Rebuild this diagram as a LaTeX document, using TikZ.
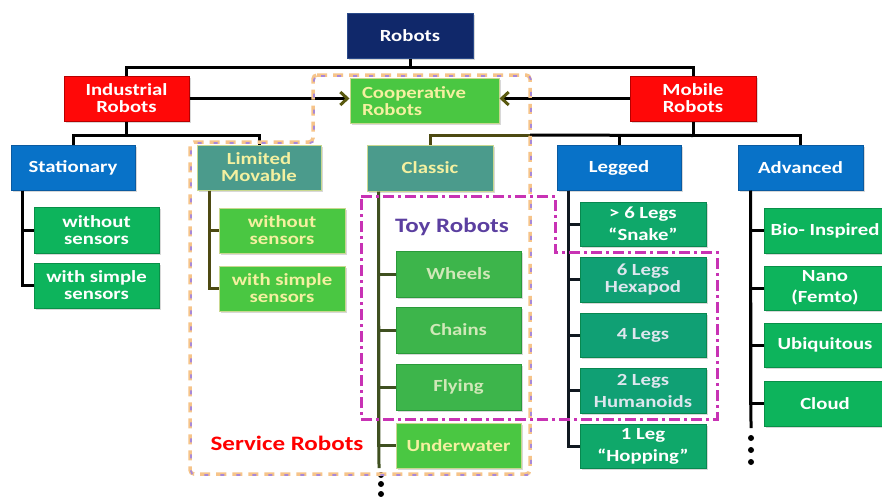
\documentclass[tikz,border=0pt]{standalone}
\usepackage{fontspec}
\newfontfamily\boxfont{Carlito}[FakeStretch=1.22]
\usetikzlibrary{arrows.meta,shadows}
\definecolor{navyc}{HTML}{10286A}
\definecolor{navyb}{HTML}{2A4A8A}
\definecolor{redc}{HTML}{FF0808}
\definecolor{redb}{HTML}{B80000}
\definecolor{bluec}{HTML}{0872C8}
\definecolor{blueb}{HTML}{0A5AA0}
\definecolor{tealc}{HTML}{4B9B8C}
\definecolor{paleb}{HTML}{C8D890}
\definecolor{paletxt}{HTML}{F4F0A0}
\definecolor{bgreenc}{HTML}{4AC742}
\definecolor{toyc}{HTML}{3DB54B}
\definecolor{toyb}{HTML}{2A9A3A}
\definecolor{toytxt}{HTML}{D0E8B8}
\definecolor{sgreenc}{HTML}{0DB45C}
\definecolor{sgreenb}{HTML}{089048}
\definecolor{lgreenc}{HTML}{0FA86A}
\definecolor{lgreenb}{HTML}{088850}
\definecolor{lgreen2c}{HTML}{10A074}
\definecolor{lgreen2t}{HTML}{DDE6EE}
\definecolor{olivec}{HTML}{4D4A12}
\definecolor{classicl}{HTML}{3F5020}
\definecolor{arrowc}{HTML}{5A5A10}
\definecolor{orangec}{HTML}{F6C48A}
\definecolor{lavc}{HTML}{A888D8}
\definecolor{magc}{HTML}{C832B4}
\definecolor{toylbl}{HTML}{5B3FA0}
\definecolor{legl}{HTML}{101820}
\begin{document}
\begin{tikzpicture}[x=1pt,y=-1pt,
  base/.style={rectangle, inner sep=0pt, line width=1pt, align=center,
    font=\boxfont\bfseries\fontsize{17}{17}\selectfont,
    drop shadow={shadow xshift=1.5pt,shadow yshift=-1.5pt,opacity=0.3}},
  sz/.style 2 args={minimum width=#1pt, minimum height=#2pt},
  navybox/.style={base, fill=navyc, draw=navyb, text=white},
  redbox/.style={base, fill=redc, draw=redb, text=white},
  bluebox/.style={base, fill=bluec, draw=blueb, text=white},
  tealbox/.style={base, fill=tealc, draw=paleb, text=paletxt},
  bgreenbox/.style={base, fill=bgreenc, draw=paleb, text=paletxt},
  toybox/.style={base, fill=toyc, draw=toyb, text=toytxt},
  sgreenbox/.style={base, fill=sgreenc, draw=sgreenb, text=white},
  lgreenbox/.style={base, fill=lgreenc, draw=lgreenb, text=white},
  lgreenboxb/.style={base, fill=lgreen2c, draw=lgreenb, text=lgreen2t},
  tree/.style={line width=3pt, draw=black},
  arr/.style={tree, -{Straight Barb[length=7pt,width=13pt,line width=3pt,color=arrowc]}},
  dot/.style={circle, fill=black, inner sep=0pt, minimum size=6pt},
  lbl/.style={font=\boxfont\bfseries\fontsize{20.5}{20.5}\selectfont, inner sep=0pt}
]
\useasboundingbox[fill=white] (0,0) rectangle (882,496);

% ---- level 0/1
\node[navybox, sz={126}{45}] (robots) at (410,35.5) {Robots};
\node[redbox, sz={125}{45}] (ind) at (126.5,98.5) {Industrial\\Robots};
\node[redbox, sz={126}{45}] (mob) at (693,98.5) {Mobile\\Robots};
\node[bgreenbox, sz={149}{45}, align=left, text width=125pt] (coop) at (424.5,101) {Cooperative\\Robots};

% ---- level 2
\node[bluebox, sz={124}{45}] (stat) at (73,167.5) {Stationary};
\node[tealbox, sz={124}{45}] (lim) at (259,167.5) {Limited\\Movable};
\node[tealbox, sz={126}{46}] (cls) at (430,168) {Classic};
\node[bluebox, sz={124}{45}] (leg) at (619,167.5) {Legged};
\node[bluebox, sz={125}{45}] (adv) at (800.5,167.5) {Advanced};

% ---- stationary children
\node[sgreenbox, sz={125}{46}] (sw1) at (96.5,230) {without\\sensors};
\node[sgreenbox, sz={125}{45}] (sw2) at (96.5,285.5) {with simple\\sensors};
% ---- limited movable children
\node[bgreenbox, sz={126}{45}] (lw1) at (282,230.5) {without\\sensors};
\node[bgreenbox, sz={126}{45}] (lw2) at (282,288.5) {with simple\\sensors};
% ---- classic children
\node[toybox, sz={125}{46}] (wheels) at (458.5,274) {Wheels};
\node[toybox, sz={125}{46}] (chains) at (458.5,330) {Chains};
\node[toybox, sz={125}{46}] (flying) at (458.5,387) {Flying};
\node[bgreenbox, sz={125}{45}] (uw) at (458.5,445.5) {Underwater};
% ---- legged children
\node[lgreenbox, sz={126}{44}] (g1) at (643,224) {> 6 Legs\\[5pt]“Snake”};
\node[lgreenboxb, sz={126}{45}] (g2) at (643,279.5) {6 Legs\\Hexapod};
\node[lgreenboxb, sz={126}{44}] (g3) at (643,335) {4 Legs};
\node[lgreenboxb, sz={126}{45}] (g4) at (643,390.5) {2 Legs\\[5pt]Humanoids};
\node[lgreenbox, sz={126}{44}] (g5) at (643,446) {1 Leg\\[5pt]“Hopping”};
% ---- advanced children
\node[sgreenbox, sz={122}{45}] (a1) at (825,230.5) {Bio- Inspired};
\node[sgreenbox, sz={122}{44}] (a2) at (825,288) {Nano\\[4pt](Femto)};
\node[sgreenbox, sz={122}{44}] (a3) at (825,345) {Ubiquitous};
\node[sgreenbox, sz={122}{45}] (a4) at (825,403.5) {Cloud};

% ---- connectors top
\draw[tree] (robots.south) -- ++(0,9) coordinate (rj) -| (ind.north);
\draw[tree] (rj) -| (mob.north);
\draw[tree] (ind.south) -- ++(0,14) coordinate (ij) -| (stat.north);
\draw[tree] (ij) -| (lim.north);
\coordinate (split) at (530,135);
\draw[tree] (mob.south) -- ++(0,14) coordinate (mj) -| (adv.north);
\draw[tree] (mj) -| (leg.north);
\draw[tree] (mj) -- (split);
\draw[tree, draw=olivec] (cls.north) |- (split);
\draw[arr] (ind.east) -- (ind.east -| coop.west);
\draw[arr] (mob.west) -- (mob.west -| coop.east);

% ---- child trees
\draw[tree] ([xshift=12pt]stat.south west) |- (sw1.west);
\draw[tree] ([xshift=12pt]stat.south west) |- (sw2.west);
\draw[tree, draw=olivec] ([xshift=13pt]lim.south west) |- (lw1.west);
\draw[tree, draw=olivec] ([xshift=13pt]lim.south west) |- (lw2.west);
\coordinate (clsend) at (379,468);
\draw[tree, draw=classicl] ([xshift=12pt]cls.south west) -- (clsend);
\foreach \n in {wheels,chains,flying,uw}
  \draw[tree, draw=classicl] ([xshift=12pt]cls.south west) |- (\n.west);
\foreach \n in {g1,g2,g3,g4,g5}
  \draw[tree, draw=legl] ([xshift=12pt]leg.south west) |- (\n.west);
\coordinate (advend) at (751,428);
\draw[tree] ([xshift=13pt]adv.south west) -- (advend);
\foreach \n in {a1,a2,a3,a4}
  \draw[tree] ([xshift=13pt]adv.south west) |- (\n.west);

% ---- continuation dots
\node[dot] (cd1) at (381,475) {};
\node[dot] (cd2) at (381,484) {};
\node[dot] (cd3) at (381,494) {};
\node[dot] (ad1) at (751,438) {};
\node[dot] (ad2) at (751,450) {};
\node[dot] (ad3) at (751,462) {};

% ---- labels
\node[lbl, text=toylbl] (toy) at (452,227) {Toy Robots};
\node[lbl, text=red] (svc) at (287,443) {Service Robots};

% ---- region outlines
\draw[orangec, line width=3.5pt, dash pattern=on 10pt off 6pt, rounded corners=4pt]
  (313,75) -- (530,75) -- (530,474) -- (190,474) -- (190,142) -- (313,142) -- cycle;
\draw[lavc, line width=1.8pt, dash pattern=on 4pt off 12pt, dash phase=-3pt, rounded corners=4pt]
  (314,76) -- (531,76) -- (531,475) -- (191,475) -- (191,143) -- (314,143) -- cycle;
\draw[magc, line width=3pt, dash pattern=on 11pt off 4pt on 3pt off 4pt]
  (361,196) -- (555,196) -- (555,252) -- (717,252) -- (717,419) -- (361,419) -- cycle;
\end{tikzpicture}
\end{document}
